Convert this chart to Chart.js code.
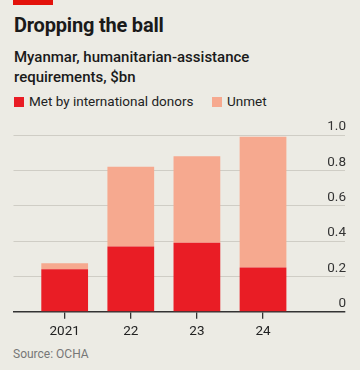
<!DOCTYPE html>
<html>
<head>
<meta charset="utf-8">
<script src="https://cdn.jsdelivr.net/npm/chart.js@4"></script>
<style>
  html, body { margin: 0; padding: 0; background: #ecebe4; }
  body { width: 360px; height: 370px; position: relative; overflow: hidden; font-family: Roboto, "Noto Sans", sans-serif; }
  #band { position: absolute; left: 13px; top: 0; width: 40px; height: 5px; background: #e3120b; }
  #title { position: absolute; left: 14px; top: 13px; font-size: 20px; font-weight: 700; color: #1a1a1a; letter-spacing: -0.2px; }
  #sub { position: absolute; left: 14px; top: 47px; font-size: 15px; font-weight: 500; color: #1a1a1a; line-height: 20px; }
  #legend { position: absolute; left: 14px; top: 93px; font-size: 13.5px; color: #222; }
  .li { position: absolute; white-space: nowrap; }
  .sw { display: inline-block; width: 10px; height: 10px; vertical-align: -1px; margin-right: 5px; }
  #source { position: absolute; left: 13px; top: 347px; font-size: 12px; color: #777; }
  #cv { position: absolute; left: 0; top: 0; }
</style>
</head>
<body>
<div id="band"></div>
<div id="title">Dropping the ball</div>
<div id="sub">Myanmar, humanitarian-assistance<br>requirements, $bn</div>
<div id="legend">
  <div class="li" style="left:0;top:0"><span class="sw" style="background:#e91d25"></span>Met by international donors</div>
  <div class="li" style="left:198px;top:0"><span class="sw" style="background:#f6a98f"></span>Unmet</div>
</div>
<div id="source">Source: OCHA</div>
<canvas id="cv" width="360" height="370"></canvas>
<script>
const categories = ['2021', '22', '23', '24'];
const metValues = [0.24, 0.37, 0.39, 0.25];
const unmetValues = [0.035, 0.45, 0.49, 0.74];
const yTicks = [0, 0.2, 0.4, 0.6, 0.8, 1.0];

const toPoints = arr => arr.map((v, i) => ({ x: i, y: v }));

new Chart(document.getElementById('cv'), {
  type: 'bar',
  data: {
    datasets: [
      { label: 'Met by international donors', data: toPoints(metValues), backgroundColor: '#e91d25', categoryPercentage: 1, barPercentage: 0.707 },
      { label: 'Unmet', data: toPoints(unmetValues), backgroundColor: '#f6a98f', categoryPercentage: 1, barPercentage: 0.707 }
    ]
  },
  options: {
    responsive: false,
    animation: false,
    events: [],
    layout: { padding: { left: 13.5, right: 13, top: 135, bottom: 25 } },
    plugins: { legend: { display: false }, tooltip: { enabled: false } },
    scales: {
      x: {
        type: 'linear',
        stacked: true,
        offset: false,
        min: -0.774,
        max: 4.24,
        afterBuildTicks: axis => { axis.ticks = categories.map((c, i) => ({ value: i })); },
        ticks: {
          callback: v => categories[v],
          font: { family: 'Roboto', size: 13.5 },
          color: '#222',
          padding: 5,
          maxRotation: 0,
          autoSkip: false
        },
        grid: { offset: false, drawOnChartArea: false, tickLength: 7, color: '#333', lineWidth: 1.3 },
        border: { display: true, color: '#333', width: 1.5 }
      },
      y: {
        position: 'right',
        stacked: true,
        min: 0,
        max: 1,
        afterBuildTicks: axis => { axis.ticks = yTicks.map(v => ({ value: v })); },
        ticks: {
          mirror: true,
          padding: 1,
          labelOffset: -8,
          callback: v => v === 0 ? '0' : v.toFixed(1),
          font: { family: 'Roboto', size: 13.5 },
          color: '#333'
        },
        grid: { color: '#cfcdc5', lineWidth: 1, drawTicks: false },
        border: { display: false }
      }
    }
  }
});
</script>
</body>
</html>
